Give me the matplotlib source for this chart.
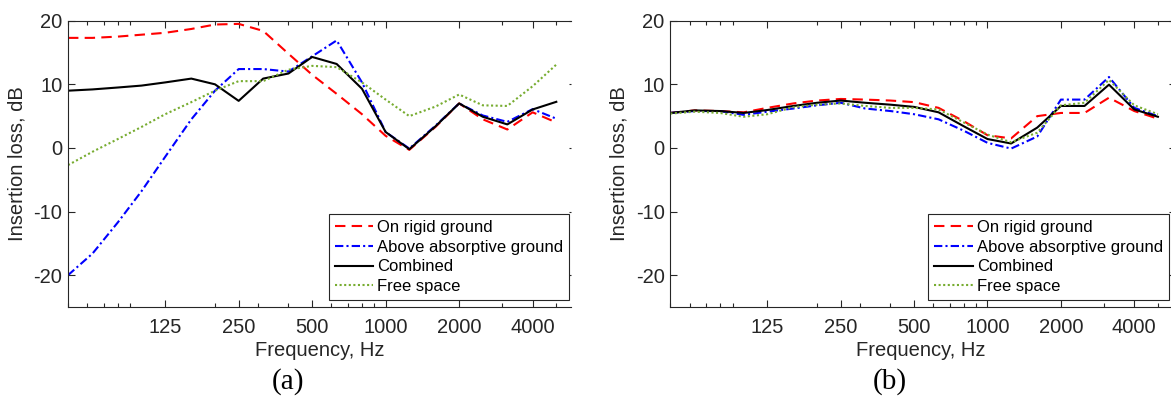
import numpy as np
import matplotlib
matplotlib.use("Agg")
import matplotlib.pyplot as plt
from matplotlib.ticker import FixedLocator, FixedFormatter, LogLocator, NullFormatter

plt.rcParams['font.family'] = ['Liberation Sans', 'DejaVu Sans']

# ---------------- data ----------------
freqs = [50, 63, 80, 100, 125, 160, 200, 250, 315, 400, 500, 630, 800,
         1000, 1250, 1600, 2000, 2500, 3150, 4000, 5000]

rigid_a = [17.3, 17.3, 17.5, 17.8, 18.1, 18.7, 19.4, 19.5, 18.4, 14.8, 11.5,
           8.5, 5.3, 1.9, -0.3, 3.3, 7.0, 4.5, 2.9, 5.6, 4.0]
absorb_a = [-20.0, -16.6, -11.7, -6.8, -1.4, 4.5, 9.0, 12.4, 12.4, 12.0, 14.4,
            16.9, 10.3, 2.5, -0.1, 3.5, 7.0, 5.1, 4.1, 6.1, 4.6]
combined_a = [9.0, 9.2, 9.5, 9.8, 10.3, 10.9, 10.0, 7.4, 10.9, 11.7, 14.3,
              13.2, 9.3, 2.5, -0.2, 3.4, 7.0, 4.9, 3.7, 6.05, 7.25]
free_a = [-2.7, -0.6, 1.4, 3.3, 5.3, 7.2, 9.0, 10.5, 10.5, 12.3, 12.9,
          12.7, 10.3, 7.6, 5.0, 6.5, 8.4, 6.7, 6.6, 9.7, 13.1]

rigid_b = [5.5, 5.9, 5.8, 5.6, 6.3, 7.0, 7.45, 7.7, 7.6, 7.45, 7.2,
           6.3, 4.2, 2.0, 1.5, 5.0, 5.5, 5.5, 7.9, 5.8, 4.6]
absorb_b = [5.5, 5.8, 5.8, 5.2, 5.7, 6.2, 6.7, 7.1, 6.2, 5.8, 5.3,
            4.5, 2.7, 0.8, -0.1, 1.8, 7.6, 7.6, 11.15, 6.3, 5.0]
combined_b = [5.5, 5.9, 5.8, 5.5, 5.96, 6.6, 7.1, 7.45, 7.1, 6.8, 6.45,
              5.6, 3.4, 1.4, 0.7, 3.2, 6.6, 6.6, 9.95, 6.05, 4.9]
free_b = [5.4, 5.7, 5.5, 4.9, 5.3, 6.4, 6.8, 7.0, 6.6, 6.3, 6.3,
          6.05, 4.0, 2.1, 0.9, 2.4, 6.7, 7.1, 10.7, 6.7, 5.3]

series_labels = ['On rigid ground', 'Above absorptive ground', 'Combined', 'Free space']
xtick_vals = [125, 250, 500, 1000, 2000, 4000]
xtick_labels = ['125', '250', '500', '1000', '2000', '4000']
ytick_vals = [-20, -10, 0, 10, 20]
panel_labels = ['(a)', '(b)']

# ---------------- figure ----------------
W, H = 1171, 397
fig = plt.figure(figsize=(W / 100, H / 100), dpi=100)

axc = '#262626'
green = '#77AC30'
FS = 14.5


def make_axes(x0, x1, y_top, y_bot):
    return fig.add_axes([x0 / W, (H - y_bot) / H, (x1 - x0) / W, (y_bot - y_top) / H])


def draw(ax, rigid, absorb, comb, free, xmax):
    ax.set_xscale('log')
    ax.plot(freqs, rigid, color='red', lw=1.5, ls=(0, (5, 3)), label=series_labels[0])
    ax.plot(freqs, absorb, color='blue', lw=1.5, ls=(0, (4, 1.5, 1, 1.5)), label=series_labels[1])
    ax.plot(freqs, comb, color='black', lw=1.5, ls='-', label=series_labels[2])
    ax.plot(freqs, free, color=green, lw=1.5, ls=(0, (1, 1.2)), label=series_labels[3])
    ax.set_xlim(50, xmax)
    ax.set_ylim(-25, 20)
    ax.xaxis.set_major_locator(FixedLocator(xtick_vals))
    ax.xaxis.set_major_formatter(FixedFormatter(xtick_labels))
    ax.xaxis.set_minor_locator(LogLocator(base=10, subs=np.arange(2, 10)))
    ax.xaxis.set_minor_formatter(NullFormatter())
    ax.set_yticks(ytick_vals)
    ax.set_yticklabels([str(v) for v in ytick_vals])
    ax.spines['right'].set_visible(False)
    for s in ['left', 'top', 'bottom']:
        ax.spines[s].set_color(axc)
        ax.spines[s].set_linewidth(0.8)
    ax.tick_params(which='both', direction='in', top=True, right=True,
                   colors=axc, labelcolor='#262626', width=0.8)
    ax.tick_params(which='major', length=5, labelsize=FS)
    ax.tick_params(which='minor', length=3)
    ax.tick_params(axis='x', which='major', pad=8)
    ax.tick_params(axis='y', which='major', pad=4)
    ax.set_xlabel('Frequency, Hz', fontsize=FS, labelpad=3, color='#262626')
    ax.set_ylabel('Insertion loss, dB', fontsize=FS, labelpad=5, color='#262626')
    for t in ax.yaxis.get_major_ticks():
        t.tick2line.set_markersize(1.5)
    leg = ax.legend(loc='lower right', bbox_to_anchor=(1 - 2 / 503, 7 / 286), borderaxespad=0,
                    fontsize=12, frameon=True, fancybox=False, framealpha=1,
                    edgecolor=axc, handlelength=2.3, handletextpad=0.25,
                    labelspacing=0.28, borderpad=0.35)
    leg.get_frame().set_linewidth(0.8)


ax1 = make_axes(68, 571, 20.7, 307)
draw(ax1, rigid_a, absorb_a, combined_a, free_a, 5743)
ax2 = make_axes(670.3, 1170.7, 20.7, 307)
draw(ax2, rigid_b, absorb_b, combined_b, free_b, 5642)

fig.text(288 / W, (H - 382) / H, panel_labels[0], family='Liberation Serif',
         fontsize=21, ha='center', va='center')
fig.text(890 / W, (H - 382) / H, panel_labels[1], family='Liberation Serif',
         fontsize=21, ha='center', va='center')

fig.savefig('out.png', dpi=100)
